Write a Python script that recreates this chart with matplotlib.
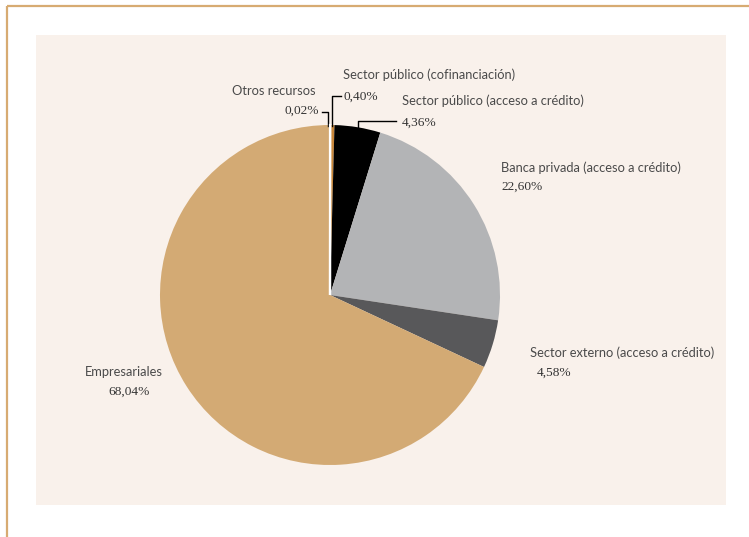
import matplotlib
matplotlib.use('agg')
import matplotlib.pyplot as plt
from matplotlib.patches import Rectangle

# datos: fuentes de financiamiento (%)
fuentes = ['Otros recursos', 'Sector público (cofinanciación)',
           'Sector público (acceso a crédito)', 'Banca privada (acceso a crédito)',
           'Sector externo (acceso a crédito)', 'Empresariales']
porcentajes = [0.02, 0.40, 4.36, 22.60, 4.58, 68.04]
etiquetas_pct = ['0,02%', '0,40%', '4,36%', '22,60%', '4,58%', '68,04%']
colores = ['#ffffff', '#c8873a', '#000000', '#b3b4b6', '#58585a', '#d3aa74']

W, H = 749, 537
fig = plt.figure(figsize=(W / 100, H / 100), dpi=100)
ax = fig.add_axes([0, 0, 1, 1])

# marco y fondo
ax.plot([6.5, 6.5], [0, H - 6], color='#d7ab72', lw=1.6, solid_capstyle='butt')
ax.plot([6.5, W], [H - 6, H - 6], color='#d7ab72', lw=1.6, solid_capstyle='butt')
ax.add_patch(Rectangle((36, H - 505), 690, 470, facecolor='#f9f1eb', edgecolor='none'))

cx, cy, r = 330, H - 295, 170
wedges, _ = ax.pie(porcentajes, colors=colores, startangle=90, counterclock=False,
                   center=(cx, cy), radius=r, frame=True,
                   wedgeprops=dict(linewidth=0))
# la porción mínima se ve como una raya blanca
wedges[0].set_edgecolor('white')
wedges[0].set_linewidth(1.6)
wedges[0].set_zorder(5)
ax.set_xlim(0, W)
ax.set_ylim(0, H)
ax.set_aspect('auto')
ax.axis('off')

sans = 'Lato'
serif = 'Liberation Serif'
gris = '#4a4a4a'
oscuro = '#333333'
fs = 9.3

# (x nombre, y nombre, x pct, y pct, alineación)
pos = [
    (316, 91, 319, 111, 'right'),
    (343, 75, 343, 97, 'left'),
    (402, 101, 402, 123, 'left'),
    (501, 168, 501, 187, 'left'),
    (530, 353, 537, 373, 'left'),
    (163, 372, 150, 392, 'right'),
]
for nombre, pct, (xn, yn, xp, yp, ha) in zip(fuentes, etiquetas_pct, pos):
    ax.text(xn, H - yn, nombre, ha=ha, va='center', family=sans, fontsize=fs, color=gris)
    ax.text(xp, H - yp, pct, ha=ha, va='center', family=serif, fontsize=9.6, color=oscuro)

# líneas guía
ax.plot([322, 328, 328], [H - 112, H - 112, H - 126], color='black', lw=1)
ax.plot([341, 332, 332], [H - 96, H - 96, H - 126], color='black', lw=1)
ax.plot([358, 358, 396], [H - 127, H - 121, H - 121], color='black', lw=1)

fig.savefig('out.png', dpi=100)
